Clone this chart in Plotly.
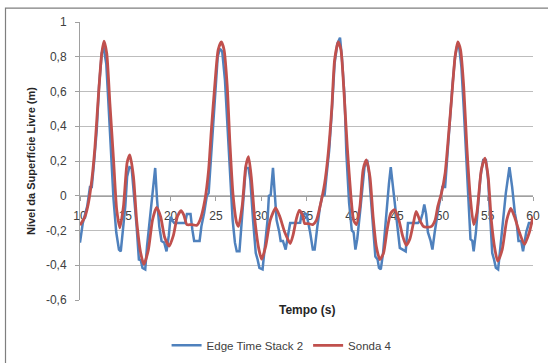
import plotly.graph_objects as go

# Sonda 4 (red, smooth)
sonda_t = [10, 10.55, 10.9, 11.3, 11.65, 12.0, 12.4, 12.65, 12.95, 13.3, 13.7, 14.05, 14.4, 14.8, 15.2, 15.5, 15.9,
           16.25, 16.7, 17.05, 17.55, 18.0, 18.45, 18.9, 19.35, 19.85, 20.3, 20.75, 21.15, 21.45, 21.8, 22.3, 22.9,
           23.25, 23.8, 24.2, 24.5, 24.9, 25.25, 25.6, 25.9, 26.25, 26.55, 26.9, 27.3, 27.5, 27.9, 28.3, 28.6, 28.9,
           29.3, 29.75, 30.05, 30.5, 31.0, 31.6, 32.05, 32.6, 33.2, 33.5, 33.9, 34.2, 34.56, 34.8, 35.2, 35.7, 36.1,
           36.5, 37.0, 37.4, 37.8, 38.1, 38.5, 38.8, 39.1, 39.5, 39.9, 40.2, 40.5, 40.9, 41.25, 41.6, 42.0, 42.35,
           42.7, 43.1, 43.5, 43.9, 44.3, 44.7, 45.2, 45.6, 46.0, 46.4, 46.8, 47.1, 47.5, 47.9, 48.2, 48.8, 49.2,
           49.5, 49.9, 50.3, 50.6, 51.0, 51.4, 51.7, 52.0, 52.35, 52.7, 53.1, 53.45, 53.8, 54.3, 54.7, 55.05, 55.4,
           55.8, 56.1, 56.6, 57.1, 57.55, 57.95, 58.5, 59.05, 59.6, 60.0]
sonda_v = [-0.17, -0.12, -0.05, 0.09, 0.28, 0.55, 0.82, 0.89, 0.82, 0.53, 0.21, -0.08, -0.185, -0.06, 0.19, 0.235, 0.11,
           -0.14, -0.33, -0.395, -0.31, -0.14, -0.067, -0.12, -0.24, -0.29, -0.23, -0.12, -0.086, -0.11, -0.166, -0.166, -0.17,
           -0.14, -0.02, 0.15, 0.38, 0.65, 0.84, 0.885, 0.84, 0.63, 0.30, 0.0, -0.157, -0.176, -0.06, 0.17, 0.225, 0.11,
           -0.14, -0.31, -0.365, -0.29, -0.14, -0.07, -0.12, -0.21, -0.275, -0.23, -0.13, -0.084, -0.11, -0.16, -0.16, -0.166, -0.14,
           -0.06, 0.07, 0.245, 0.51, 0.78, 0.885, 0.84, 0.63, 0.28, 0.0, -0.14, -0.166, -0.06, 0.15, 0.206, 0.11, -0.12,
           -0.29, -0.367, -0.33, -0.195, -0.1, -0.08, -0.14, -0.23, -0.285, -0.25, -0.157, -0.09, -0.14, -0.176, -0.18, -0.176, -0.14,
           -0.06, 0.015, 0.13, 0.30, 0.55, 0.80, 0.885, 0.84, 0.63, 0.28, -0.02, -0.166, -0.1, 0.15, 0.216, 0.11, -0.14,
           -0.31, -0.376, -0.31, -0.14, -0.073, -0.12, -0.21, -0.28, -0.21, -0.12]

# Edge Time Stack 2 (blue, stepped)
edge_t = [10, 10.3, 10.55, 10.8, 11.1, 11.3, 11.55, 11.85, 12.1, 12.4, 12.6, 12.9, 13.1, 13.4, 13.7, 14.0, 14.3, 14.5,
          14.7, 15.0, 15.2, 15.45, 15.7, 16.0, 16.25, 16.5, 16.7, 16.9, 17.2, 17.4, 17.7, 18.0, 18.3, 18.5, 18.75, 19.0,
          19.3, 19.55, 19.8, 20.0, 20.15, 20.4, 21.6, 21.8, 22.2, 22.4, 22.6, 23.2, 23.4, 23.7, 24.0, 24.2, 24.4, 24.6,
          24.9, 25.2, 25.45, 25.7, 26.0, 26.25, 26.55, 26.85, 27.1, 27.3, 27.6, 27.85, 28.1, 28.3, 28.6, 28.8, 29.1,
          29.4, 29.6, 29.8, 30.15, 30.4, 30.7, 30.85, 31.05, 31.3, 31.5, 31.7, 32.0, 32.15, 32.4, 32.7, 32.95, 33.2,
          34.3, 34.45, 35.0, 35.2, 35.4, 35.7, 35.9, 36.2, 36.5, 36.75, 37.0, 37.2, 37.5, 37.8, 38.1, 38.4, 38.7, 38.9,
          39.2, 39.4, 39.7, 40.0, 40.2, 40.4, 40.6, 40.9, 41.2, 41.4, 41.7, 41.9, 42.2, 42.4, 42.6, 42.85, 43.0, 43.2,
          43.45, 43.7, 43.9, 44.1, 44.3, 44.5, 44.8, 45.0, 45.3, 45.95, 46.2, 47.3, 47.6, 47.8, 48.0, 48.2, 48.4, 48.7,
          48.9, 49.15, 49.3, 49.6, 49.9, 50.0, 50.3, 50.5, 50.8, 51.1, 51.4, 51.6, 51.85, 52.1, 52.35, 52.65, 52.9,
          53.1, 53.3, 53.45, 53.7, 53.9, 54.2, 54.5, 54.8, 55.05, 55.3, 55.5, 55.7, 55.9, 56.15, 56.4, 56.7, 57.0,
          57.25, 57.4, 57.7, 58.0, 58.2, 58.4, 58.7, 58.9, 59.25, 59.55, 60.0]
edge_v = [-0.27, -0.16, -0.11, -0.06, 0.05, 0.05, 0.19, 0.38, 0.63, 0.82, 0.855, 0.76, 0.57, 0.245, -0.02, -0.21, -0.31, -0.32,
          -0.21, -0.06, 0.11, 0.165, 0.16, 0.0, -0.176, -0.367, -0.37, -0.415, -0.424, -0.29, -0.14, 0.015, 0.16, -0.02, -0.176, -0.26,
          -0.27, -0.32, -0.23, -0.12, -0.14, -0.157, -0.157, -0.105, -0.105, -0.195, -0.26, -0.26, -0.176, -0.1, 0.0, 0.015, 0.17, 0.38,
          0.61, 0.80, 0.846, 0.83, 0.665, 0.416, 0.09, -0.14, -0.27, -0.32, -0.32, -0.157, 0.05, 0.16, 0.16, 0.09, -0.14,
          -0.33, -0.367, -0.415, -0.424, -0.31, -0.14, 0.0, 0.005, 0.16, 0.035, -0.14, -0.21, -0.26, -0.26, -0.31, -0.23, -0.157,
          -0.155, -0.105, -0.105, -0.157, -0.21, -0.31, -0.31, -0.176, -0.06, 0.0, 0.005, 0.11, 0.26, 0.49, 0.76, 0.875, 0.91, 0.80,
          0.57, 0.245, -0.04, -0.2, -0.21, -0.31, -0.25, -0.1, 0.09, 0.165, 0.206, 0.13, -0.08, -0.21, -0.35, -0.367, -0.415, -0.424,
          -0.33, -0.176, -0.04, 0.07, 0.165, 0.07, -0.06, -0.176, -0.3, -0.32, -0.157, -0.157, -0.14, -0.105, -0.05, -0.105, -0.21, -0.26,
          -0.31, -0.21, -0.157, -0.06, 0.015, 0.05, 0.05, 0.2, 0.435, 0.63, 0.8, 0.855, 0.855, 0.74, 0.51, 0.2, -0.06,
          -0.25, -0.26, -0.32, -0.21, -0.06, 0.11, 0.206, 0.206, 0.09, -0.14, -0.33, -0.367, -0.415, -0.424, -0.31, -0.14, 0.015,
          0.11, 0.165, 0.05, -0.1, -0.157, -0.26, -0.26, -0.32, -0.21, -0.157, -0.157]

x_ticks = [10, 15, 20, 25, 30, 35, 40, 45, 50, 55, 60]
y_ticks = [-0.6, -0.4, -0.2, 0, 0.2, 0.4, 0.6, 0.8, 1]
y_tick_labels = ["-0,6", "-0,4", "-0,2", "0", "0,2", "0,4", "0,6", "0,8", "1"]

FONT = "Liberation Sans"
TXT = "#404040"

fig = go.Figure()
fig.add_trace(go.Scatter(x=edge_t, y=edge_v, mode="lines", name="Edge Time Stack 2",
                         line=dict(color="#4F81BD", width=2.5)))
fig.add_trace(go.Scatter(x=sonda_t, y=sonda_v, mode="lines", name="Sonda 4",
                         line=dict(color="#C0504D", width=2.8, shape="spline", smoothing=0.6)))

W, H = 548, 363
L, R, T, B = 80, 15, 21.5, 62.5
pw = W - L - R
ph = H - T - B

def px_x(p):
    return (p - L) / pw

def px_y(p):
    return (H - B - p) / ph

fig.update_layout(
    width=W, height=H,
    margin=dict(l=L, r=R, t=T, b=B, pad=0, autoexpand=False),
    paper_bgcolor="white", plot_bgcolor="white",
    font=dict(family=FONT, size=11, color=TXT),
    showlegend=True,
    legend=dict(orientation="h", x=0.445, xanchor="center", y=px_y(346), yanchor="middle",
                font=dict(family=FONT, size=11.5, color=TXT), bgcolor="rgba(0,0,0,0)",
                itemwidth=30, tracegroupgap=0),
    xaxis=dict(range=[10, 60], tickvals=x_ticks, ticktext=[str(v) for v in x_ticks],
               anchor="free", position=0.375, showline=True, linecolor="#A0A0A0", linewidth=1,
               ticks="outside", ticklen=4, tickcolor="#A0A0A0", showgrid=False, zeroline=False,
               layer="below traces", ticklabelstandoff=5,
               tickfont=dict(family=FONT, size=12, color=TXT)),
    yaxis=dict(range=[-0.6, 1], tickvals=y_ticks, ticktext=y_tick_labels,
               showline=True, linecolor="#A0A0A0", linewidth=1, ticks="outside", ticklen=4,
               tickcolor="#A0A0A0", showgrid=True, gridcolor="#BDBDBD", gridwidth=1,
               zeroline=False, layer="below traces", ticklabelstandoff=6,
               tickfont=dict(family=FONT, size=12, color=TXT)),
    annotations=[
        dict(text="<b>Tempo (s)</b>", x=0.5, y=px_y(311), xref="paper", yref="paper",
             xanchor="center", yanchor="middle", showarrow=False,
             font=dict(family=FONT, size=12, color="#262626")),
        dict(text="<b>Nível da Superfície Livre (m)</b>", x=px_x(31), y=0.5, xref="paper", yref="paper",
             xanchor="center", yanchor="middle", textangle=-90, showarrow=False,
             font=dict(family=FONT, size=11, color="#262626")),
    ],
    shapes=[dict(type="rect", xref="paper", yref="paper", x0=px_x(5.5), x1=px_x(560),
                 y0=px_y(380), y1=px_y(7.5), line=dict(color="#7F7F7F", width=1.2),
                 fillcolor="rgba(0,0,0,0)", layer="above")],
)

fig.write_html("out.html", config={"displayModeBar": False},
               post_script="document.body.style.margin='0';document.body.style.padding='0';")
